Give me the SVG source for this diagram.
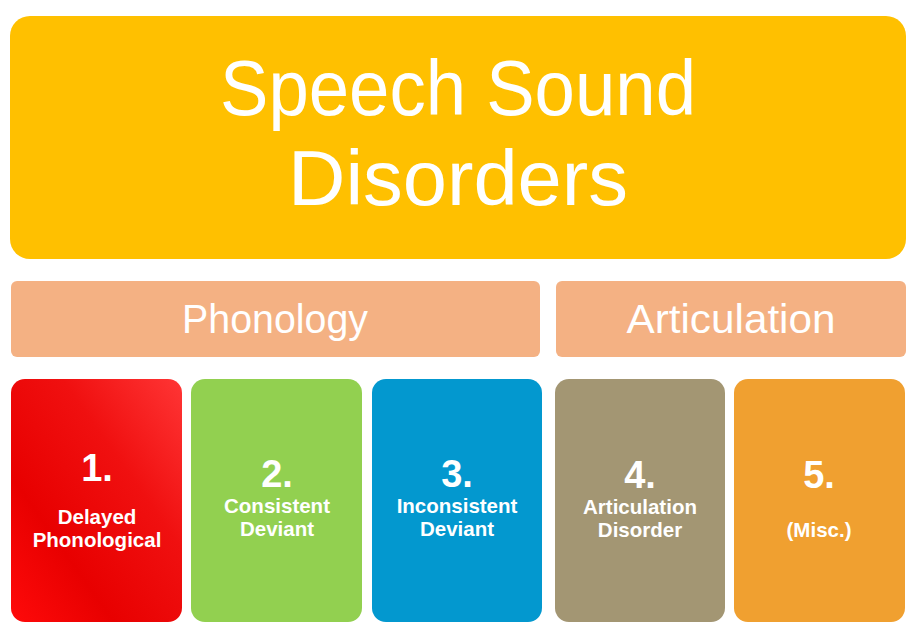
<svg xmlns="http://www.w3.org/2000/svg" width="921" height="639" viewBox="0 0 921 639">
<style>
.t{font-family:"Liberation Sans",Arial,sans-serif;fill:#fff;text-anchor:middle}
.big{font-size:78px}
.mid{font-size:40px}
.num{font-size:38px;font-weight:bold}
.lab{font-size:20.5px;font-weight:bold}
</style>
<defs>
<linearGradient id="red" x1="1" y1="0" x2="0" y2="1">
<stop offset="0" stop-color="#FF3535"/>
<stop offset="0.35" stop-color="#F01010"/>
<stop offset="0.7" stop-color="#E80000"/>
<stop offset="1" stop-color="#FF0A0A"/>
</linearGradient>
</defs>
<rect width="921" height="639" fill="#fff"/>
<g id="root">
<rect x="10" y="16" width="896" height="243" rx="20" fill="#FFC000"/>
<text class="t big" x="458" y="115" textLength="476" lengthAdjust="spacingAndGlyphs">Speech Sound</text>
<text class="t big" x="458" y="205" textLength="340" lengthAdjust="spacingAndGlyphs">Disorders</text>
</g>
<g id="phonology">
<rect x="11" y="281" width="529" height="76" rx="6" fill="#F4B183"/>
<text class="t mid" x="275" y="333" textLength="186" lengthAdjust="spacingAndGlyphs">Phonology</text>
</g>
<g id="articulation">
<rect x="556" y="281" width="350" height="76" rx="6" fill="#F4B183"/>
<text class="t mid" x="731" y="333" textLength="209" lengthAdjust="spacingAndGlyphs">Articulation</text>
</g>
<g id="card1">
<rect x="11" y="379" width="171" height="243" rx="14" fill="url(#red)"/>
<text class="t num" x="97" y="481">1.</text>
<text class="t lab" x="97" y="524">Delayed</text>
<text class="t lab" x="97" y="547">Phonological</text>
</g>
<g id="card2">
<rect x="191" y="379" width="171" height="243" rx="14" fill="#92D050"/>
<text class="t num" x="277" y="487">2.</text>
<text class="t lab" x="277" y="513">Consistent</text>
<text class="t lab" x="277" y="536">Deviant</text>
</g>
<g id="card3">
<rect x="372" y="379" width="170" height="243" rx="14" fill="#0398CF"/>
<text class="t num" x="457" y="487">3.</text>
<text class="t lab" x="457" y="513">Inconsistent</text>
<text class="t lab" x="457" y="536">Deviant</text>
</g>
<g id="card4">
<rect x="555" y="379" width="170" height="243" rx="14" fill="#A39673"/>
<text class="t num" x="640" y="488">4.</text>
<text class="t lab" x="640" y="514">Articulation</text>
<text class="t lab" x="640" y="537">Disorder</text>
</g>
<g id="card5">
<rect x="734" y="379" width="171" height="243" rx="14" fill="#F0A030"/>
<text class="t num" x="819" y="488">5.</text>
<text class="t lab" x="819" y="537">(Misc.)</text>
</g>
<g id="connectors"/>
</svg>
